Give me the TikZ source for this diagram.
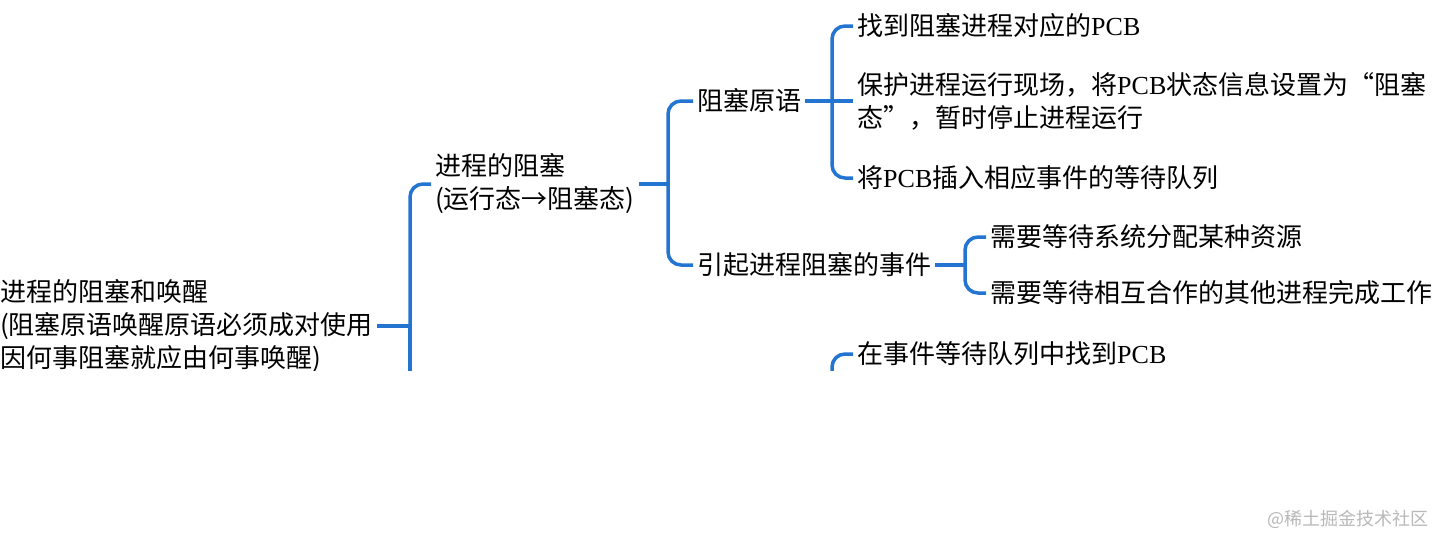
\documentclass[tikz,border=0pt]{standalone}
\usepackage{fontspec}
\setmainfont{Noto Sans CJK SC}
\newfontfamily\latinfont{Liberation Serif}
\newcommand{\pcb}{{\latinfont PCB}}
\definecolor{mapblue}{HTML}{2474D2}
\tikzset{
  topic/.style={anchor=west, inner sep=4pt, align=left, font=\fontsize{26}{33}\selectfont},
  branch/.style={draw=mapblue, line width=3.5pt, rounded corners=13pt},
}
\begin{document}
\begin{tikzpicture}[x=1pt, y=-1pt]
    \useasboundingbox (0,0) rectangle (1446,546);
    \begin{scope}
        \clip (0,0) rectangle (1446,370);
        % Root
        \node[topic] (root) at (-4,326) {进程的阻塞和唤醒\\(阻塞原语唤醒原语必须成对使用\\因何事阻塞就应由何事唤醒)};
        \coordinate (j1) at (410,326);
        \draw[branch] (root.east) -- (j1);
        \draw[branch] (j1) -- (410,420);
        % Blocking
        \node[topic] (block) at (431,184) {进程的阻塞\\(运行态→阻塞态)};
        \draw[branch] (j1) |- (block.west);
        \coordinate (j2) at (668,184);
        \draw[branch] (block.east) -- (j2);
        % Blocking primitive
        \node[topic] (prim) at (693,101) {阻塞原语};
        \node[topic] (cause) at (693,265) {引起进程阻塞的事件};
        \draw[branch] (j2) |- (prim.west);
        \draw[branch] (j2) |- (cause.west);
        \coordinate (j3) at (832,101);
        \draw[branch] (prim.east) -- (j3);
        \node[topic] (stepa) at (853,26) {找到阻塞进程对应的\pcb};
        \node[topic] (stepb) at (853,101) {保护进程运行现场，将\pcb 状态信息设置为“阻塞\\态”，暂时停止进程运行};
        \node[topic] (stepc) at (853,178) {将\pcb 插入相应事件的等待队列};
        \draw[branch] (j3) |- (stepa.west);
        \draw[branch] (j3) -- (stepb.west);
        \draw[branch] (j3) |- (stepc.west);
        % Causes
        \coordinate (j4) at (965,265);
        \draw[branch] (cause.east) -- (j4);
        \node[topic] (causea) at (986,237) {需要等待系统分配某种资源};
        \node[topic] (causeb) at (986,293) {需要等待相互合作的其他进程完成工作};
        \draw[branch] (j4) |- (causea.west);
        \draw[branch] (j4) |- (causeb.west);
        % Wake-up primitive (cut off)
        \coordinate (j5) at (832,430);
        \node[topic] (find) at (853,354) {在事件等待队列中找到\pcb};
        \draw[branch] (j5) |- (find.west);
    \end{scope}
    % Watermark
    \node[anchor=east, inner sep=0pt, text=black!28, font=\fontsize{18}{18}\selectfont] (mark) at (1429,519) {@稀土掘金技术社区};
\end{tikzpicture}
\end{document}
